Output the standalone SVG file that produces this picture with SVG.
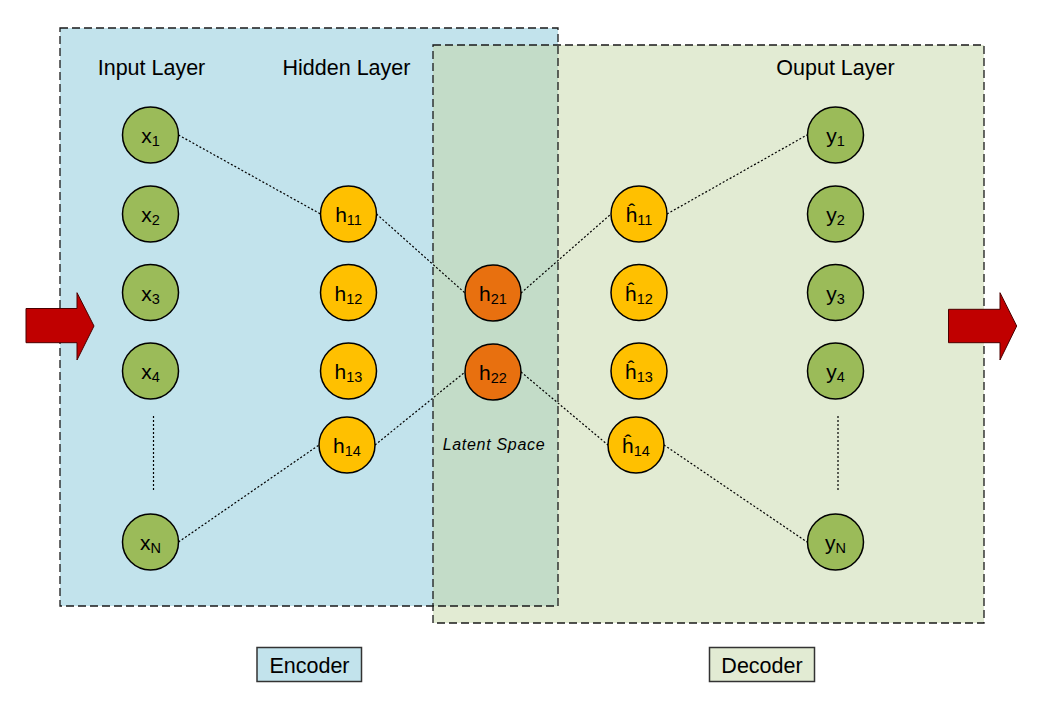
<svg xmlns="http://www.w3.org/2000/svg" width="1041" height="703" viewBox="0 0 1041 703">
<style>
.frame{fill:none;stroke:#1a1a1a;stroke-width:1.3;stroke-dasharray:8,4}
.hdr{font-family:"Liberation Sans",Arial,sans-serif;font-size:21.5px;fill:#000;text-anchor:middle}
.lbl{font-family:"Liberation Sans",Arial,sans-serif;font-size:21px;fill:#000;text-anchor:middle}
.sub{font-size:14.5px}
.nd{stroke:#000;stroke-width:1.5}
.g{fill:#9BBB59}
.o{fill:#FFC000}
.r{fill:#E8700F}
.con{fill:none;stroke:#000;stroke-width:1.2;stroke-dasharray:2,2}
.arrow{fill:#C00000;stroke:#4a0000;stroke-width:1}
.tag{stroke:#333;stroke-width:1.5}
</style>
<rect width="1041" height="703" fill="#fff"/>
<g id="encoder-region">
<rect x="60" y="28" width="498" height="578" fill="#C2E3EC"/>
</g>
<g id="decoder-region">
<rect x="433" y="45" width="551" height="578" fill="#E2EBD3"/>
<rect x="433" y="45" width="125" height="561" fill="#C3DCC8"/>
</g>
<g id="frames">
<rect class="frame" x="60" y="28" width="498" height="578"/>
<rect class="frame" x="433" y="45" width="551" height="578"/>
</g>
<g id="headers">
<text class="hdr" x="151.5" y="75">Input Layer</text>
<text class="hdr" x="346.5" y="75">Hidden Layer</text>
<text class="hdr" x="835.5" y="75">Ouput Layer</text>
</g>
<g id="arrow-in"><path class="arrow" d="M26,308.5 H77 V292.7 L94,326 L77,360 V342.7 H26 Z"/></g>
<g id="arrow-out"><path class="arrow" d="M948.5,309.3 H1000 V292.7 L1016.7,326 L1000,360 V342.7 H948.5 Z"/></g>
<g id="connectors">
<line class="con" x1="178.5" y1="135" x2="320.5" y2="214"/>
<line class="con" x1="376.5" y1="214" x2="465" y2="293"/>
<line class="con" x1="178.5" y1="542" x2="319" y2="445"/>
<line class="con" x1="375" y1="445" x2="465" y2="372"/>
<line class="con" x1="521" y1="293" x2="611" y2="214"/>
<line class="con" x1="521" y1="372" x2="608" y2="445"/>
<line class="con" x1="667" y1="214" x2="807" y2="135"/>
<line class="con" x1="664" y1="445" x2="807" y2="542"/>
<line class="con" x1="153.5" y1="416" x2="153.5" y2="491"/>
<line class="con" x1="838" y1="416" x2="838" y2="491"/>
</g>
<g id="x1"><circle class="nd g" cx="150.5" cy="135" r="28"/><text class="lbl" x="150.5" y="143">x<tspan class="sub" dy="3">1</tspan></text></g>
<g id="x2"><circle class="nd g" cx="150.5" cy="214" r="28"/><text class="lbl" x="150.5" y="222">x<tspan class="sub" dy="3">2</tspan></text></g>
<g id="x3"><circle class="nd g" cx="150.5" cy="292.5" r="28"/><text class="lbl" x="150.5" y="300.5">x<tspan class="sub" dy="3">3</tspan></text></g>
<g id="x4"><circle class="nd g" cx="150.5" cy="371" r="28"/><text class="lbl" x="150.5" y="379">x<tspan class="sub" dy="3">4</tspan></text></g>
<g id="xN"><circle class="nd g" cx="150.5" cy="542" r="28"/><text class="lbl" x="150.5" y="550">x<tspan class="sub" dy="3">N</tspan></text></g>
<g id="h11"><circle class="nd o" cx="348.5" cy="214" r="28"/><text class="lbl" x="348.5" y="222">h<tspan class="sub" dy="3">11</tspan></text></g>
<g id="h12"><circle class="nd o" cx="348.5" cy="292.5" r="28"/><text class="lbl" x="348.5" y="300.5">h<tspan class="sub" dy="3">12</tspan></text></g>
<g id="h13"><circle class="nd o" cx="348.5" cy="371" r="28"/><text class="lbl" x="348.5" y="379">h<tspan class="sub" dy="3">13</tspan></text></g>
<g id="h14"><circle class="nd o" cx="347" cy="445" r="28"/><text class="lbl" x="347" y="453">h<tspan class="sub" dy="3">14</tspan></text></g>
<g id="h21"><circle class="nd r" cx="493" cy="293" r="28"/><text class="lbl" x="493" y="301">h<tspan class="sub" dy="3">21</tspan></text></g>
<g id="h22"><circle class="nd r" cx="493" cy="372" r="28"/><text class="lbl" x="493" y="380">h<tspan class="sub" dy="3">22</tspan></text></g>
<g id="latent-label"><text x="494" y="450" font-family="Liberation Sans,Arial,sans-serif" font-size="16" font-style="italic" letter-spacing="0.7" text-anchor="middle" fill="#000">Latent Space</text></g>
<g id="hh11"><circle class="nd o" cx="639" cy="214" r="28"/><text class="lbl" x="639" y="222">ĥ<tspan class="sub" dy="3">11</tspan></text></g>
<g id="hh12"><circle class="nd o" cx="639" cy="292.5" r="28"/><text class="lbl" x="639" y="300.5">ĥ<tspan class="sub" dy="3">12</tspan></text></g>
<g id="hh13"><circle class="nd o" cx="639" cy="371" r="28"/><text class="lbl" x="639" y="379">ĥ<tspan class="sub" dy="3">13</tspan></text></g>
<g id="hh14"><circle class="nd o" cx="636" cy="445" r="28"/><text class="lbl" x="636" y="453">ĥ<tspan class="sub" dy="3">14</tspan></text></g>
<g id="y1"><circle class="nd g" cx="835.5" cy="135" r="28"/><text class="lbl" x="835.5" y="143">y<tspan class="sub" dy="3">1</tspan></text></g>
<g id="y2"><circle class="nd g" cx="835.5" cy="214" r="28"/><text class="lbl" x="835.5" y="222">y<tspan class="sub" dy="3">2</tspan></text></g>
<g id="y3"><circle class="nd g" cx="835.5" cy="292.5" r="28"/><text class="lbl" x="835.5" y="300.5">y<tspan class="sub" dy="3">3</tspan></text></g>
<g id="y4"><circle class="nd g" cx="835.5" cy="371" r="28"/><text class="lbl" x="835.5" y="379">y<tspan class="sub" dy="3">4</tspan></text></g>
<g id="yN"><circle class="nd g" cx="835.5" cy="542" r="28"/><text class="lbl" x="835.5" y="550">y<tspan class="sub" dy="3">N</tspan></text></g>
<g id="encoder-tag"><rect class="tag" x="257" y="647.5" width="104.5" height="34" fill="#C2E3EC"/><text class="hdr" x="309.5" y="672.5" font-size="21">Encoder</text></g>
<g id="decoder-tag"><rect class="tag" x="709.5" y="647.5" width="105" height="34" fill="#E2EBD3"/><text class="hdr" x="762" y="672.5" font-size="21">Decoder</text></g>
</svg>
